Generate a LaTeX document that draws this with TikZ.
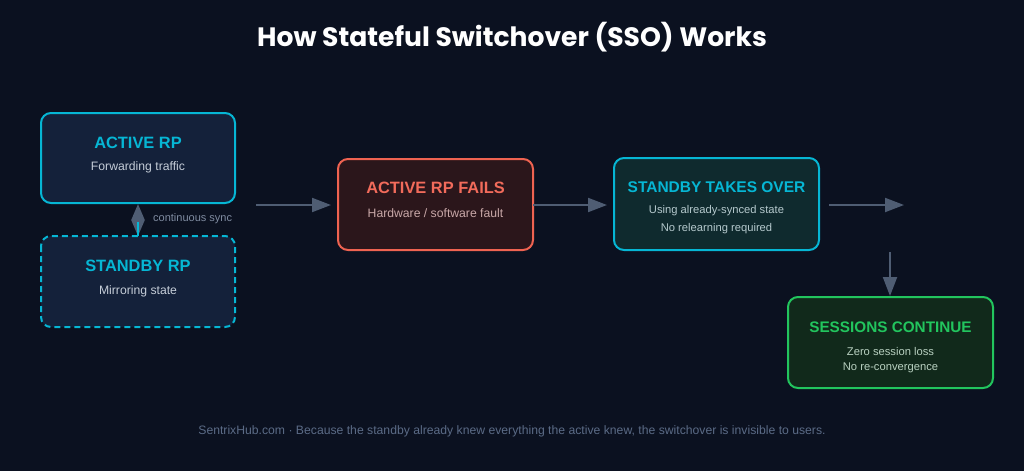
\documentclass[tikz,border=0pt]{standalone}
\usepackage{fontspec}
\setmainfont{Liberation Sans}
\newfontfamily\titlefont{Poppins}
\usetikzlibrary{arrows.meta}
\definecolor{bg}{HTML}{0B1120}
\definecolor{navyfill}{HTML}{14213A}
\definecolor{cyanc}{HTML}{06B6D4}
\definecolor{subgray}{HTML}{C5CDD8}
\definecolor{failfill}{HTML}{2B161B}
\definecolor{failborder}{HTML}{EF6351}
\definecolor{failtitle}{HTML}{F26B5B}
\definecolor{failsub}{HTML}{C9A8A8}
\definecolor{tealfill}{HTML}{0F2A2E}
\definecolor{tealsub}{HTML}{B5C9CD}
\definecolor{greenfill}{HTML}{11291B}
\definecolor{greenc}{HTML}{22C55E}
\definecolor{greensub}{HTML}{B8D0C0}
\definecolor{arrowc}{HTML}{4F5D73}
\definecolor{footc}{HTML}{5B6B86}
\definecolor{syncc}{HTML}{7F8BA0}
\tikzset{
  x=1pt, y=-1pt,
  box/.style={rounded corners=10pt, line width=2pt, inner sep=0pt},
  ttl/.style={font=\bfseries\fontsize{16.4}{19}\selectfont, inner sep=0pt},
  ttlsm/.style={font=\bfseries\fontsize{15.5}{18}\selectfont, inner sep=0pt},
  sub/.style={font=\fontsize{12.2}{14}\selectfont, inner sep=0pt},
  subsm/.style={font=\fontsize{11.2}{14}\selectfont, inner sep=0pt},
  flow/.style={draw=arrowc, line width=2pt, -{Triangle[length=19pt,width=14pt]}},
}
\begin{document}
\begin{tikzpicture}
\fill[bg] (0,0) rectangle (1024,471);
\useasboundingbox (0,0) rectangle (1024,471);

\node[font=\titlefont\bfseries\fontsize{26.6}{32}\selectfont, text=white] (title) at (512,37) {How Stateful Switchover (SSO) Works};

% ACTIVE RP
\draw[box, draw=cyanc, fill=navyfill] (41,113) rectangle (235,203);
\node[ttl, text=cyanc] (activet) at (138,143) {ACTIVE RP};
\node[sub, text=subgray] (actives) at (138,167) {Forwarding traffic};
\coordinate (activebot) at (138,204);

% STANDBY RP
\draw[box, draw=cyanc, fill=navyfill, dash pattern=on 6pt off 4pt] (41,236) rectangle (235,327);
\node[ttl, text=cyanc] (standbyt) at (138,266) {STANDBY RP};
\node[sub, text=subgray] (standbys) at (138,291) {Mirroring state};
\coordinate (standbytop) at (138,236);

% sync
\coordinate (syncmid) at (138,222);
\draw[draw=arrowc, line width=2pt, {Triangle[length=16pt,width=13pt]}-{Triangle[length=16pt,width=13pt]}] (activebot) -- (standbytop);
\draw[cyanc, line width=1.6pt] (syncmid) -- (standbytop);
\node[font=\fontsize{11}{13}\selectfont, inner sep=0pt, text=syncc, anchor=west] (synclbl) at (153,219) {continuous sync};

% arrow 1
\coordinate (a1s) at (256,205);
\coordinate (a1e) at (331,205);
\draw[flow] (a1s) -- (a1e);

% FAILS
\draw[box, draw=failborder, fill=failfill] (338,159) rectangle (533,250);
\node[ttl, text=failtitle] (failt) at (435.5,188) {ACTIVE RP FAILS};
\node[sub, text=failsub] (fails) at (435.5,213) {Hardware / software fault};
\coordinate (failr) at (533,205);
\coordinate (takel) at (607,205);
\draw[flow] (failr) -- (takel);

% TAKES OVER
\draw[box, draw=cyanc, fill=tealfill] (614,158) rectangle (819,250);
\node[ttlsm, text=cyanc] (taket) at (716.5,187) {STANDBY TAKES OVER};
\node[subsm, text=tealsub] (takes1) at (716.5,211) {Using already-synced state};
\node[subsm, text=tealsub] (takes2) at (716.5,229) {No relearning required};

\coordinate (a3s) at (829,205);
\coordinate (a3e) at (904,205);
\draw[flow] (a3s) -- (a3e);

\coordinate (a4s) at (890,252);
\coordinate (a4e) at (890,296);
\draw[flow] (a4s) -- (a4e);

% SESSIONS
\draw[box, draw=greenc, fill=greenfill] (788,297) rectangle (993,388);
\node[ttlsm, font=\bfseries\fontsize{15.3}{18}\selectfont, text=greenc] (sesst) at (890.5,327) {SESSIONS CONTINUE};
\node[subsm, text=greensub] (sess1) at (890.5,351) {Zero session loss};
\node[subsm, text=greensub] (sess2) at (890.5,368) {No re-convergence};

\node[font=\fontsize{12.2}{14}\selectfont, inner sep=0pt, text=footc] (foot) at (512,431) {SentrixHub.com · Because the standby already knew everything the active knew, the switchover is invisible to users.};
\end{tikzpicture}
\end{document}
